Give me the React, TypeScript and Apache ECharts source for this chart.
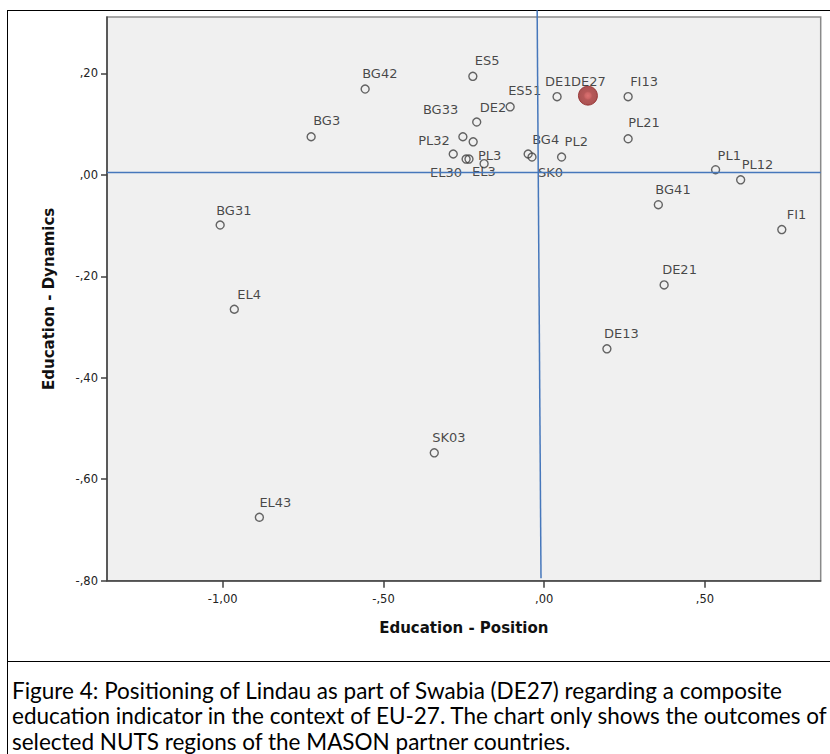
import React, { useEffect, useRef } from "react";
import * as echarts from "echarts";

// Region codes (one point is unlabeled in the reference)
const regionNames = ["ES5","BG42","DE1","DE27","FI13","ES51","DE2","BG3","PL21","BG33","PL32","","EL30","PL3","EL3","BG4","SK0","PL2","PL1","PL12","BG41","FI1","BG31","EL4","SK03","EL43","DE21","DE13"];
// Education - Position
const positionValues = [-0.222,-0.557,0.040,0.136,0.261,-0.106,-0.210,-0.725,0.261,-0.253,-0.283,-0.221,-0.243,-0.234,-0.187,-0.050,-0.038,0.054,0.533,0.611,0.355,0.739,-1.008,-0.964,-0.342,-0.886,0.373,0.195];
// Education - Dynamics
const dynamicsValues = [0.194,0.169,0.154,0.156,0.154,0.134,0.104,0.075,0.071,0.075,0.041,0.065,0.031,0.031,0.022,0.041,0.035,0.035,0.010,-0.010,-0.059,-0.108,-0.099,-0.265,-0.548,-0.675,-0.217,-0.343];
const highlightRegion = "DE27";

// Reference lines
const refLineVertical = [[-0.022, 0.3245], [-0.010, -0.795]];
const refLineHorizontal = [[-1.36, 0.0045], [0.86, 0.0045]];

const xTicks = [-1, -0.5, 0, 0.5];
const yTicks = [-0.8, -0.6, -0.4, -0.2, 0, 0.2];

const captionLines = [
  "Figure 4: Positioning of Lindau as part of Swabia (DE27) regarding a composite",
  "education indicator in the context of EU-27. The chart only shows the outcomes of",
  "selected NUTS regions of the MASON partner countries.",
];

// label placement (layout only)
const labelOffsets: Record<string, [number, number]> = {
  ES5: [2, -16], BG42: [-3, -16], DE1: [-12, -15], DE27: [-17, -14], FI13: [2, -15],
  ES51: [-2, -16], DE2: [3, -15], BG3: [2, -16], PL21: [0, -16], BG33: [-40, -27],
  PL32: [-35, -13], EL30: [-36, 13], PL3: [9, -4], EL3: [-12, 8], BG4: [4, -14],
  SK0: [6, 15], PL2: [3, -16], PL1: [2, -14], PL12: [1, -15], BG41: [-3, -15],
  FI1: [5, -15], BG31: [-4, -15], EL4: [3, -15], SK03: [-2, -15], EL43: [0, -15],
  DE21: [-2, -15], DE13: [-3, -15],
};

function fmt(v: number) {
  let s = v.toFixed(2);
  s = s.replace(/^(-?)0\./, "$1,");
  s = s.replace(".", ",");
  return s;
}

const labelFont = "DejaVu Sans";

function makeItem(i: number) {
  const name = regionNames[i];
  const off = labelOffsets[name] || [0, -15];
  return {
    name,
    value: [positionValues[i], dynamicsValues[i]],
    label: {
      show: name !== "",
      position: "inside",
      align: "left",
      verticalAlign: "middle",
      offset: off,
    },
  };
}

export default function App() {
  const ref = useRef<HTMLDivElement>(null);
  useEffect(() => {
    document.body.style.margin = "0";
    if (!ref.current) return;
    const chart = echarts.init(ref.current, null, { renderer: "svg" });
    const normal: any[] = [];
    const highlight: any[] = [];
    regionNames.forEach((n, i) => {
      (n === highlightRegion ? highlight : normal).push(makeItem(i));
    });
    const labelStyle = {
      formatter: (p: any) => p.name,
      color: "#1a1a1a",
      fontSize: 13,
      fontFamily: labelFont,
    };
    chart.setOption({
      animation: false,
      backgroundColor: "#ffffff",
      grid: {
        left: 107,
        top: 17,
        width: 713.7,
        height: 563.7,
        show: true,
        backgroundColor: "#f0f0f0",
        borderColor: "#8a8a8a",
        borderWidth: 1.5,
      },
      xAxis: {
        type: "value",
        min: -1.36,
        max: 0.86,
        name: "Education - Position",
        nameLocation: "middle",
        nameGap: 40,
        nameTextStyle: { fontFamily: labelFont, fontWeight: "bold", fontSize: 15, color: "#111" },
        axisLine: { show: true, onZero: false, lineStyle: { color: "#404040", width: 1.5 } },
        axisTick: { show: true, customValues: xTicks, length: 7, lineStyle: { color: "#404040", width: 1.5 } },
        axisLabel: { customValues: xTicks, formatter: (v: number) => fmt(v), color: "#222", fontSize: 11.5, fontFamily: labelFont, margin: 12 },
        splitLine: { show: false },
      },
      yAxis: {
        type: "value",
        min: -0.8,
        max: 0.311,
        name: "Education - Dynamics",
        nameLocation: "middle",
        nameGap: 51,
        nameTextStyle: { fontFamily: labelFont, fontWeight: "bold", fontSize: 15, color: "#111" },
        axisLine: { show: true, onZero: false, lineStyle: { color: "#404040", width: 1.5 } },
        axisTick: { show: true, customValues: yTicks, length: 6, lineStyle: { color: "#404040", width: 1.5 } },
        axisLabel: { customValues: yTicks, formatter: (v: number) => fmt(v), color: "#222", fontSize: 11.5, fontFamily: labelFont, margin: 9 },
        splitLine: { show: false },
      },
      series: [
        {
          type: "scatter",
          data: normal,
          symbol: "circle",
          symbolSize: 8,
          itemStyle: { color: "rgba(0,0,0,0)", borderColor: "#404040", borderWidth: 1.4 },
          label: labelStyle,
          z: 2,
        },
        {
          type: "scatter",
          data: highlight,
          symbol: "circle",
          symbolSize: 19,
          itemStyle: {
            color: {
              type: "radial", x: 0.5, y: 0.5, r: 0.5,
              colorStops: [
                { offset: 0, color: "#d65252" },
                { offset: 0.3, color: "#c44444" },
                { offset: 0.45, color: "#a83232" },
                { offset: 1, color: "#982b2b" },
              ],
            },
            borderColor: "#8e2626",
            borderWidth: 1,
          },
          label: labelStyle,
          z: 2,
        },
        {
          type: "line",
          data: refLineVertical,
          showSymbol: false,
          symbol: "none",
          clip: false,
          lineStyle: { color: "#4677bb", width: 1.5 },
          z: 3,
          silent: true,
        },
        {
          type: "line",
          data: refLineHorizontal,
          showSymbol: false,
          symbol: "none",
          clip: false,
          lineStyle: { color: "#4677bb", width: 1.5 },
          z: 3,
          silent: true,
        },
      ],
      graphic: [
        { type: "line", shape: { x1: 7, y1: 10.5, x2: 830, y2: 10.5 }, style: { stroke: "#000", lineWidth: 1 } },
        { type: "line", shape: { x1: 7.5, y1: 10, x2: 7.5, y2: 754 }, style: { stroke: "#000", lineWidth: 1 } },
        { type: "line", shape: { x1: 7, y1: 661.5, x2: 830, y2: 661.5 }, style: { stroke: "#000", lineWidth: 1 } },
        ...captionLines.map((t, i) => ({
          type: "text",
          x: 12,
          y: 690 + i * 25.5,
          style: { text: t, font: "22.5px Lato", fill: "#000", verticalAlign: "middle", textAlign: "left" },
        })),
      ],
    });
    return () => chart.dispose();
  }, []);
  return <div ref={ref} style={{ width: 830, height: 754 }} />;
}
